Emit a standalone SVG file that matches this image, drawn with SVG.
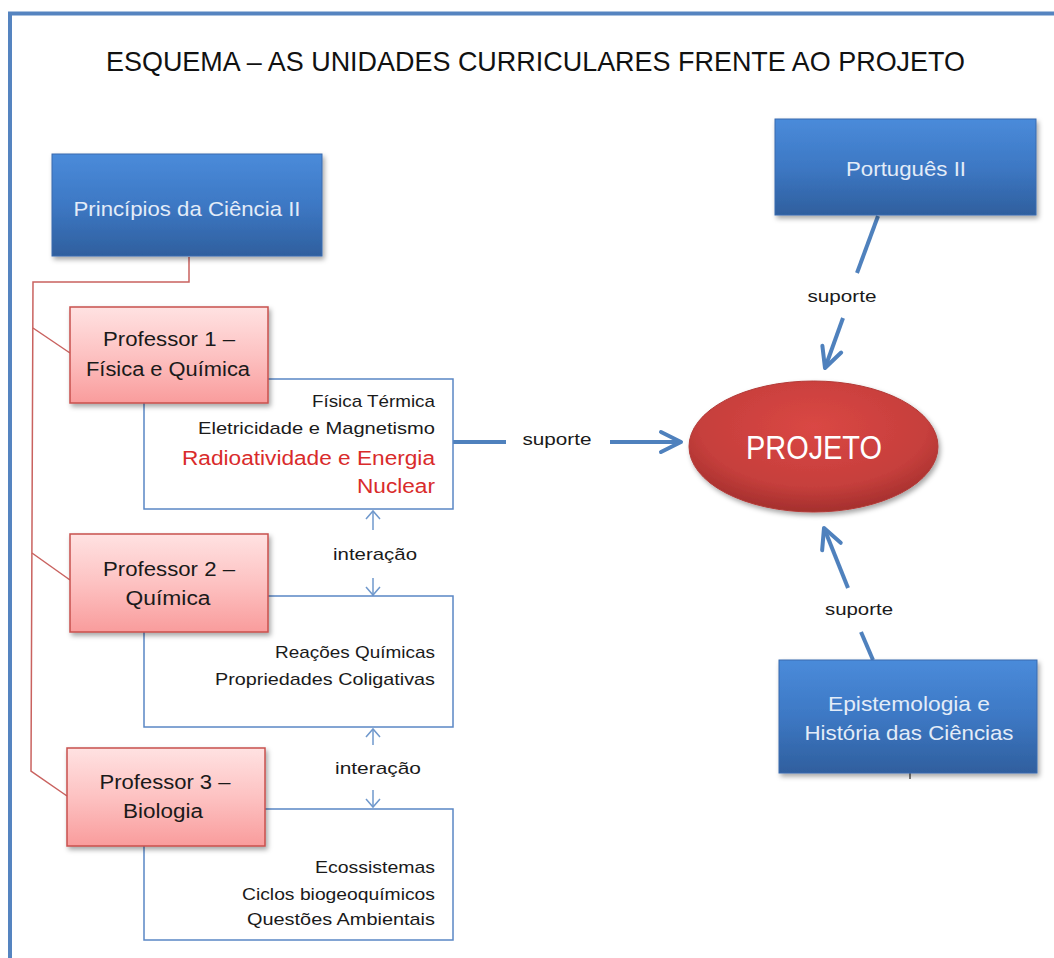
<svg xmlns="http://www.w3.org/2000/svg" width="1054" height="958" viewBox="0 0 1054 958">
  <defs>
    <linearGradient id="gBlue" x1="0" y1="0" x2="0" y2="1">
      <stop offset="0" stop-color="#4A8BDA"/>
      <stop offset="0.5" stop-color="#3D78C4"/>
      <stop offset="1" stop-color="#2F5F9E"/>
    </linearGradient>
    <linearGradient id="gPink" x1="0" y1="0" x2="0" y2="1">
      <stop offset="0" stop-color="#FFE2E2"/>
      <stop offset="0.5" stop-color="#FDC2C2"/>
      <stop offset="1" stop-color="#F99C9C"/>
    </linearGradient>
    <radialGradient id="gRed" cx="0.5" cy="0.35" r="0.65">
      <stop offset="0" stop-color="#DA4744"/>
      <stop offset="0.7" stop-color="#C63F3C"/>
      <stop offset="1" stop-color="#A42F2D"/>
    </radialGradient>
    <filter id="shadow" x="-10%" y="-10%" width="125%" height="135%">
      <feDropShadow dx="2" dy="3" stdDeviation="2.5" flood-color="#000" flood-opacity="0.35"/>
    </filter>
    <marker id="head" viewBox="-26 -14 30 28" refX="0" refY="0" markerWidth="30" markerHeight="28" markerUnits="userSpaceOnUse" orient="auto">
      <path d="M-20,-10 L0,0 L-20,10" fill="none" stroke="#4F81BD" stroke-width="4" stroke-linecap="round" stroke-linejoin="round"/>
    </marker>
    <marker id="thin" viewBox="-10 -8 12 16" refX="0" refY="0" markerWidth="12" markerHeight="16" markerUnits="userSpaceOnUse" orient="auto">
      <path d="M-8,-7 L0,0 L-8,7" fill="none" stroke="#6F98CC" stroke-width="1.5"/>
    </marker>
    <style>
      text { font-family: "Liberation Sans", Arial, sans-serif; }
      .title { font-size: 28px; fill: #111; }
      .unit { fill: url(#gBlue); stroke: #3A6AAE; stroke-width: 1; filter: url(#shadow); }
      .unit-t { font-size: 21px; fill: #E3ECF8; text-anchor: middle; }
      .prof { fill: url(#gPink); stroke: #C8504D; stroke-width: 1.5; filter: url(#shadow); }
      .prof-t { font-size: 20px; fill: #1A1A1A; text-anchor: middle; }
      .topics { fill: #FFFFFF; stroke: #5A87C5; stroke-width: 1.5; }
      .topic { font-size: 17px; fill: #1A1A1A; text-anchor: end; }
      .topic-red { font-size: 20px; fill: #D92B2B; text-anchor: end; }
      .lbl { font-size: 17px; fill: #1A1A1A; text-anchor: middle; }
      .tree { fill: none; stroke: #C9625F; stroke-width: 1.5; }
      .support { fill: none; stroke: #4F81BD; stroke-width: 4; }
      .inter { fill: none; stroke: #6F98CC; stroke-width: 1.5; }
    </style>
  </defs>

  <rect width="1054" height="958" fill="#FFFFFF"/>

  <!-- page frame -->
  <path d="M10,958 V13.5 H1054" fill="none" stroke="#5584C0" stroke-width="4"/>

  <text class="title" x="106" y="71" textLength="859" lengthAdjust="spacingAndGlyphs">ESQUEMA – AS UNIDADES CURRICULARES FRENTE AO PROJETO</text>

  <!-- connectors -->
  <g id="connectors">
    <path class="tree" d="M189,257 V282 H33 L31,771 L67,796"/>
    <path class="tree" d="M33,328 L70,353"/>
    <path class="tree" d="M32,553 L70,580"/>

    <path class="support" d="M453,442 H506"/>
    <path class="support" d="M610,442 H681" marker-end="url(#head)"/>
    <text class="lbl" x="557" y="445" textLength="69" lengthAdjust="spacingAndGlyphs">suporte</text>

    <path class="support" d="M878,216 L857,273"/>
    <path class="support" d="M843,318 L825,368" marker-end="url(#head)"/>
    <text class="lbl" x="842" y="302" textLength="69" lengthAdjust="spacingAndGlyphs">suporte</text>

    <path class="support" d="M873,660 L861,632"/>
    <path class="support" d="M848,588 L824,528" marker-end="url(#head)"/>
    <text class="lbl" x="859" y="615" textLength="68" lengthAdjust="spacingAndGlyphs">suporte</text>
    <path d="M910,773 V779" stroke="#555" stroke-width="1.5"/>

    <path class="inter" d="M373,530 V511" marker-end="url(#thin)"/>
    <path class="inter" d="M373,578 V595" marker-end="url(#thin)"/>
    <text class="lbl" x="375" y="560" textLength="84" lengthAdjust="spacingAndGlyphs">interação</text>

    <path class="inter" d="M373,745 V729" marker-end="url(#thin)"/>
    <path class="inter" d="M373,790 V807" marker-end="url(#thin)"/>
    <text class="lbl" x="378" y="774" textLength="86" lengthAdjust="spacingAndGlyphs">interação</text>
  </g>

  <!-- Princípios da Ciência II -->
  <g id="principios">
    <rect class="unit" x="52" y="154" width="270" height="102"/>
    <text class="unit-t" x="187" y="216" textLength="227" lengthAdjust="spacingAndGlyphs">Princípios da Ciência II</text>
  </g>

  <!-- Português II -->
  <g id="portugues">
    <rect class="unit" x="775" y="119" width="261" height="96"/>
    <text class="unit-t" x="906" y="176" textLength="120" lengthAdjust="spacingAndGlyphs">Português II</text>
  </g>

  <!-- Epistemologia e História das Ciências -->
  <g id="epistemologia">
    <rect class="unit" x="779" y="660" width="258" height="113"/>
    <text class="unit-t" x="909" y="711" textLength="162" lengthAdjust="spacingAndGlyphs">Epistemologia e</text>
    <text class="unit-t" x="909" y="740" textLength="209" lengthAdjust="spacingAndGlyphs">História das Ciências</text>
  </g>

  <!-- PROJETO -->
  <g id="projeto">
    <ellipse cx="813.5" cy="446.5" rx="124.5" ry="65.5" fill="url(#gRed)" stroke="#B23A37" stroke-width="1" filter="url(#shadow)"/>
    <text x="814" y="459" font-size="34" fill="#FFFFFF" text-anchor="middle" textLength="136" lengthAdjust="spacingAndGlyphs">PROJETO</text>
  </g>

  <!-- Professor 1 topics -->
  <g id="topicos-1">
    <rect class="topics" x="144" y="379" width="309" height="130"/>
    <text class="topic" x="435" y="407" textLength="123" lengthAdjust="spacingAndGlyphs">Física Térmica</text>
    <text class="topic" x="435" y="434" textLength="237" lengthAdjust="spacingAndGlyphs">Eletricidade e Magnetismo</text>
    <text class="topic-red" x="435" y="465" textLength="253" lengthAdjust="spacingAndGlyphs">Radioatividade e Energia</text>
    <text class="topic-red" x="435" y="493" textLength="78" lengthAdjust="spacingAndGlyphs">Nuclear</text>
  </g>

  <!-- Professor 2 topics -->
  <g id="topicos-2">
    <rect class="topics" x="144" y="596" width="309" height="131"/>
    <text class="topic" x="435" y="658" textLength="160" lengthAdjust="spacingAndGlyphs">Reações Químicas</text>
    <text class="topic" x="435" y="685" textLength="220" lengthAdjust="spacingAndGlyphs">Propriedades Coligativas</text>
  </g>

  <!-- Professor 3 topics -->
  <g id="topicos-3">
    <rect class="topics" x="144" y="809" width="309" height="131"/>
    <text class="topic" x="435" y="873" textLength="120" lengthAdjust="spacingAndGlyphs">Ecossistemas</text>
    <text class="topic" x="435" y="900" textLength="193" lengthAdjust="spacingAndGlyphs">Ciclos biogeoquímicos</text>
    <text class="topic" x="435" y="925" textLength="188" lengthAdjust="spacingAndGlyphs">Questões Ambientais</text>
  </g>

  <!-- Professor 1 -->
  <g id="professor-1">
    <rect class="prof" x="70" y="307" width="198" height="96"/>
    <text class="prof-t" x="169" y="346" textLength="132" lengthAdjust="spacingAndGlyphs">Professor 1 –</text>
    <text class="prof-t" x="168" y="376" textLength="164" lengthAdjust="spacingAndGlyphs">Física e Química</text>
  </g>

  <!-- Professor 2 -->
  <g id="professor-2">
    <rect class="prof" x="70" y="534" width="198" height="98"/>
    <text class="prof-t" x="169" y="576" textLength="132" lengthAdjust="spacingAndGlyphs">Professor 2 –</text>
    <text class="prof-t" x="168" y="605" textLength="85" lengthAdjust="spacingAndGlyphs">Química</text>
  </g>

  <!-- Professor 3 -->
  <g id="professor-3">
    <rect class="prof" x="67" y="748" width="198" height="98"/>
    <text class="prof-t" x="165" y="789" textLength="131" lengthAdjust="spacingAndGlyphs">Professor 3 –</text>
    <text class="prof-t" x="163" y="818" textLength="80" lengthAdjust="spacingAndGlyphs">Biologia</text>
  </g>
</svg>
